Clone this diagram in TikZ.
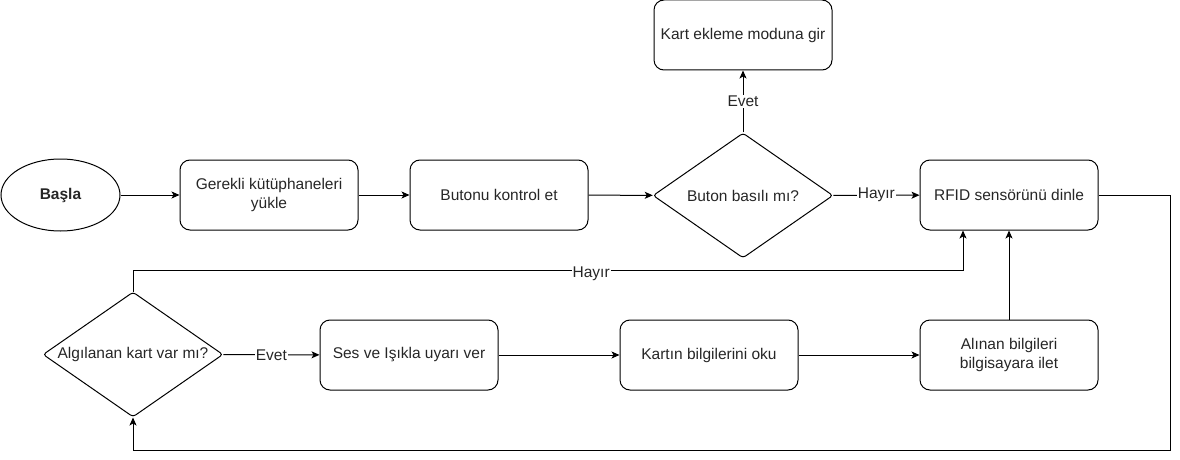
\documentclass[tikz,border=0pt]{standalone}
\usepackage{fontspec}
\setmainfont{Liberation Sans}
\usetikzlibrary{shapes.geometric,arrows.meta}
\begin{document}
\begin{tikzpicture}[x=1pt,y=-1pt,
  font=\fontsize{15.5}{19}\selectfont,
  every node/.append style={text=black!85},
  proc/.style={draw=black, line width=1pt, rounded corners=10pt, minimum width=178pt, minimum height=70pt, align=center, inner sep=0pt},
  decision/.style={draw=black, line width=1pt, diamond, aspect=1.44, inner sep=0pt, minimum width=180pt, minimum height=125pt, rounded corners=3pt},
  terminal/.style={draw=black, line width=1pt, ellipse, minimum width=119pt, minimum height=72pt, inner sep=0pt},
  conn/.style={draw=black, line width=1pt, -{Stealth[length=8pt,width=7pt,inset=2pt]}},
  lbl/.style={fill=white, inner sep=1pt}
]
\useasboundingbox (0,0) rectangle (1180,460);

\node[terminal] (start) at (60.5,195) {\textbf{Başla}};
\node[proc] (libs) at (269,195) {Gerekli kütüphaneleri\\yükle};
\node[proc] (btn) at (499,195) {Butonu kontrol et};
\node[decision] (q1) at (743,195.5) {Buton basılı mı?};
\node[proc] (add) at (743,35) {Kart ekleme moduna gir};
\node[proc] (rfid) at (1009,195) {RFID sensörünü dinle};
\node[decision] (q2) at (133,354.5) {Algılanan kart var mı?};
\node[proc] (alarm) at (409,355) {Ses ve Işıkla uyarı ver};
\node[proc] (read) at (709,355) {Kartın bilgilerini oku};
\node[proc] (send) at (1009,355) {Alınan bilgileri\\bilgisayara ilet};

\coordinate (loopR) at (1170,450);
\coordinate (loopT) at (963,270);

\draw[conn] (start) -- (libs);
\draw[conn] (libs) -- (btn);
\draw[conn] (btn) -- (q1);
\draw[conn] (q1) -- node[lbl] {Evet} (add);
\draw[conn] (q1) -- node[lbl] {Hayır} (rfid);
\draw[conn] (rfid.east) -| (loopR) -| (q2.south);
\draw[conn] (q2.north) |- node[lbl, pos=0.776, yshift=-4pt] {Hayır} (loopT) -- (rfid.south -| loopT);
\draw[conn] (q2) -- node[lbl] {Evet} (alarm);
\draw[conn] (alarm) -- (read);
\draw[conn] (read) -- (send);
\draw[conn] (send) -- (rfid);
\end{tikzpicture}
\end{document}
